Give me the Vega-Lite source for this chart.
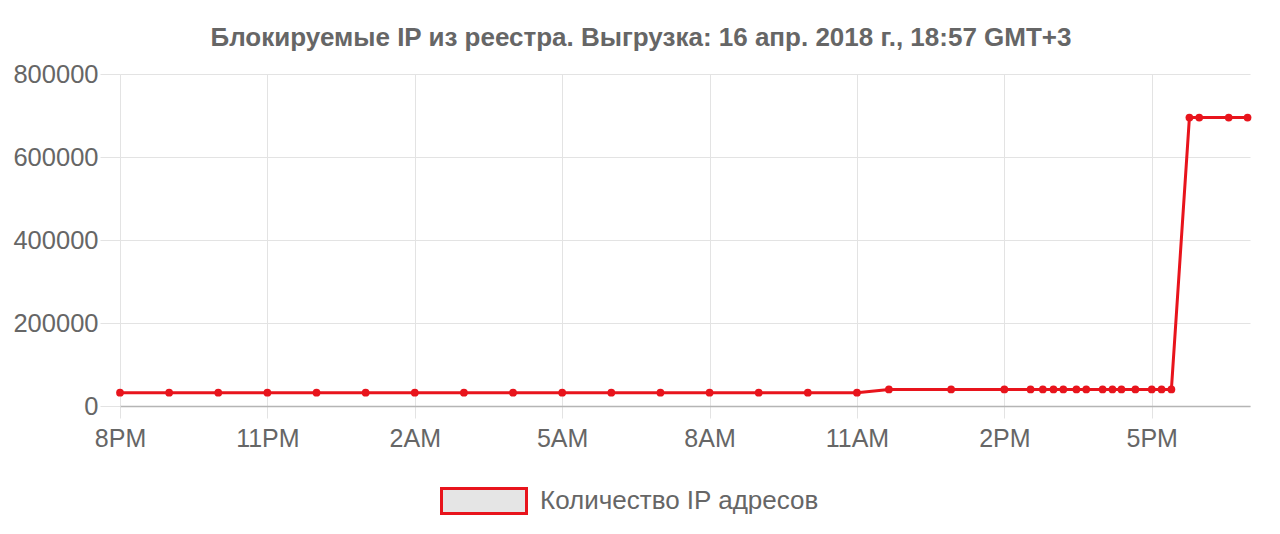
{
  "$schema": "https://vega.github.io/schema/vega-lite/v6.json",
  "width": 1130,
  "height": 332,
  "autosize": {"type": "none"},
  "padding": {"left": 120, "top": 74, "right": 30, "bottom": 128},
  "background": "white",
  "title": {
    "text": "Блокируемые IP из реестра. Выгрузка: 16 апр. 2018 г., 18:57 GMT+3",
    "font": "Liberation Sans",
    "fontSize": 26,
    "fontWeight": "bold",
    "color": "#666666",
    "anchor": "middle",
    "frame": "group",
    "dx": -44,
    "offset": 11
  },
  "config": {
    "view": {"stroke": null},
    "font": "Liberation Sans"
  },
  "data": {
    "values": [
      {"time": "2018-04-15T20:00:00", "count": 32000},
      {"time": "2018-04-15T21:00:00", "count": 32000},
      {"time": "2018-04-15T22:00:00", "count": 32000},
      {"time": "2018-04-15T23:00:00", "count": 32000},
      {"time": "2018-04-16T00:00:00", "count": 32000},
      {"time": "2018-04-16T01:00:00", "count": 32000},
      {"time": "2018-04-16T02:00:00", "count": 32000},
      {"time": "2018-04-16T03:00:00", "count": 32000},
      {"time": "2018-04-16T04:00:00", "count": 32000},
      {"time": "2018-04-16T05:00:00", "count": 32000},
      {"time": "2018-04-16T06:00:00", "count": 32000},
      {"time": "2018-04-16T07:00:00", "count": 32000},
      {"time": "2018-04-16T08:00:00", "count": 32000},
      {"time": "2018-04-16T09:00:00", "count": 32000},
      {"time": "2018-04-16T10:00:00", "count": 32000},
      {"time": "2018-04-16T11:00:00", "count": 32000},
      {"time": "2018-04-16T11:39:00", "count": 40000},
      {"time": "2018-04-16T12:55:00", "count": 40000},
      {"time": "2018-04-16T14:00:00", "count": 40000},
      {"time": "2018-04-16T14:32:00", "count": 40000},
      {"time": "2018-04-16T14:47:00", "count": 40000},
      {"time": "2018-04-16T15:00:00", "count": 40000},
      {"time": "2018-04-16T15:12:00", "count": 40000},
      {"time": "2018-04-16T15:28:00", "count": 40000},
      {"time": "2018-04-16T15:40:00", "count": 40000},
      {"time": "2018-04-16T16:00:00", "count": 40000},
      {"time": "2018-04-16T16:12:00", "count": 40000},
      {"time": "2018-04-16T16:23:00", "count": 40000},
      {"time": "2018-04-16T16:40:00", "count": 40000},
      {"time": "2018-04-16T17:00:00", "count": 40000},
      {"time": "2018-04-16T17:12:00", "count": 40000},
      {"time": "2018-04-16T17:24:00", "count": 40000},
      {"time": "2018-04-16T17:46:00", "count": 695000},
      {"time": "2018-04-16T17:58:00", "count": 695000},
      {"time": "2018-04-16T18:34:00", "count": 695000},
      {"time": "2018-04-16T18:57:00", "count": 695000}
    ]
  },
  "encoding": {
    "x": {
      "field": "time",
      "type": "temporal",
      "scale": {"domain": ["2018-04-15T20:00:00", "2018-04-16T19:00:00"]},
      "axis": {
        "title": null,
        "values": ["2018-04-15T20:00:00", "2018-04-15T23:00:00", "2018-04-16T02:00:00", "2018-04-16T05:00:00", "2018-04-16T08:00:00", "2018-04-16T11:00:00", "2018-04-16T14:00:00", "2018-04-16T17:00:00"],
        "format": "%-I%p",
        "labelFont": "Liberation Sans",
        "labelFontSize": 25,
        "labelColor": "#666666",
        "labelPadding": 8,
        "labelFlush": false,
        "labelAlign": "center",
        "tickSize": 12,
        "tickColor": "#e3e3e3",
        "grid": true,
        "gridColor": "#e3e3e3",
        "domainColor": "#b5b5b5",
        "domainWidth": 1.5
      }
    },
    "y": {
      "field": "count",
      "type": "quantitative",
      "scale": {"domain": [0, 800000], "nice": false},
      "axis": {
        "title": null,
        "values": [0, 200000, 400000, 600000, 800000],
        "format": "d",
        "labelFont": "Liberation Sans",
        "labelFontSize": 25.5,
        "labelColor": "#666666",
        "labelPadding": 2,
        "tickSize": 20,
        "tickColor": "#e3e3e3",
        "grid": true,
        "gridColor": "#e3e3e3",
        "domain": false
      }
    }
  },
  "layer": [
    {
      "mark": {"type": "line", "strokeWidth": 3, "interpolate": "linear"},
      "encoding": {
        "color": {
          "datum": "Количество IP адресов",
          "type": "nominal",
          "scale": {"range": ["#e8141c"]},
          "legend": {
            "title": null,
            "orient": "none",
            "legendX": 320,
            "legendY": 413,
            "padding": 0,
            "symbolType": "M-3.4,-1H3.4V1H-3.4Z",
            "symbolSize": 625,
            "symbolOffset": 30,
            "labelOffset": 42,
            "labelLimit": 600,
            "labelFont": "Liberation Sans",
            "labelFontSize": 26,
            "labelColor": "#666666",
            "encode": {
              "symbols": {
                "update": {
                  "fill": {"value": "#e5e5e5"},
                  "fillOpacity": {"value": 1},
                  "stroke": {"value": "#e8141c"},
                  "strokeWidth": {"value": 3}
                }
              }
            }
          }
        }
      }
    },
    {
      "mark": {"type": "point", "filled": true, "size": 60, "color": "#e8141c", "opacity": 1}
    }
  ]
}
